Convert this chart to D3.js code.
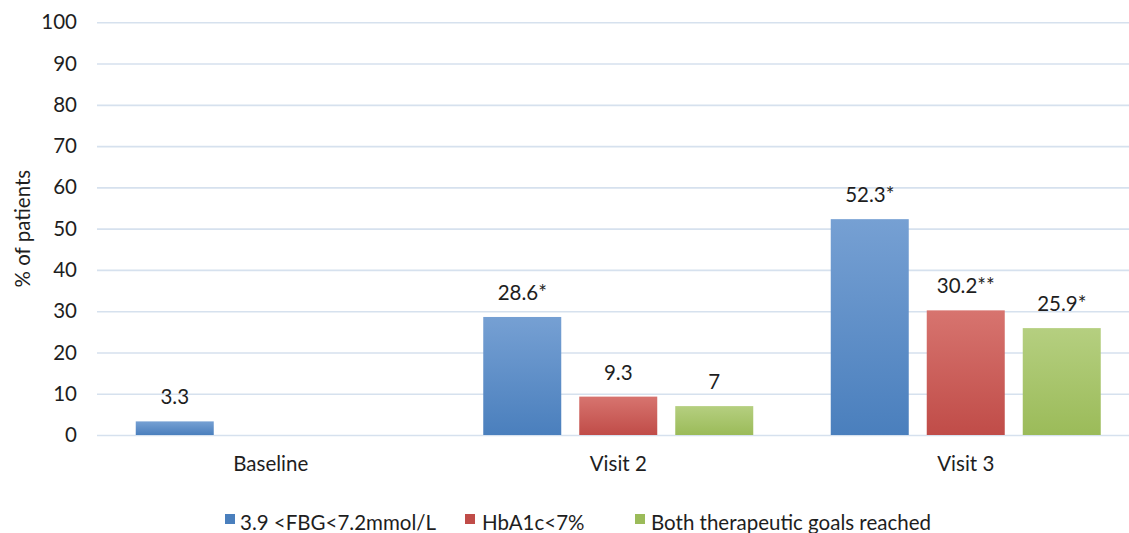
<!DOCTYPE html>
<html>
<head>
<meta charset="utf-8">
<script src="https://cdn.jsdelivr.net/npm/d3@7"></script>
<style>
  html, body { margin: 0; padding: 0; background: #fff; }
  svg { display: block; }
  text { font-family: Lato, "Open Sans", sans-serif; fill: #1e1e1e; }
</style>
</head>
<body>
<svg id="chart" width="1129" height="533"></svg>
<script>
const categories = ["Baseline", "Visit 2", "Visit 3"];
const seriesNames = ["3.9 <FBG<7.2mmol/L", "HbA1c<7%", "Both therapeutic goals reached"];
const fbgValues = [3.3, 28.6, 52.3];
const hba1cValues = [null, 9.3, 30.2];
const bothValues = [null, 7, 25.9];
const fbgLabels = ["3.3", "28.6*", "52.3*"];
const hba1cLabels = ["", "9.3", "30.2**"];
const bothLabels = ["", "7", "25.9*"];
const yTicks = [0, 10, 20, 30, 40, 50, 60, 70, 80, 90, 100];

const colors = [
  { top: "#76a0d3", bottom: "#4a7fbd" },
  { top: "#d7746f", bottom: "#c04c48" },
  { top: "#b5cf80", bottom: "#9bbb59" }
];

const FS = 20.5;
const svg = d3.select("#chart");
const W = 1129;
const plotTop = 22.3, plotBottom = 435;

const y = d3.scaleLinear().domain([0, 100]).range([plotBottom, plotTop]);
const x0 = d3.scaleBand().domain(categories).range([97, 1139.5]).paddingInner(0).paddingOuter(0);
const groupWidth = 270;
const x1 = d3.scaleBand().domain([0, 1, 2]).range([0, groupWidth]).paddingInner(18 / 96).paddingOuter(0);

// gradients
const defs = svg.append("defs");
colors.forEach((c, i) => {
  const g = defs.append("linearGradient").attr("id", "grad" + i)
    .attr("x1", 0).attr("y1", 0).attr("x2", 0).attr("y2", 1);
  g.append("stop").attr("offset", "0%").attr("stop-color", c.top);
  g.append("stop").attr("offset", "100%").attr("stop-color", c.bottom);
});

// gridlines via axis
const yAxis = d3.axisLeft(y).tickValues(yTicks).tickSize(-(W - 97)).tickPadding(20);
const gy = svg.append("g").attr("transform", "translate(97,0)").call(yAxis);
gy.select(".domain").remove();
gy.selectAll(".tick line").attr("stroke", "#d6e1ee").attr("stroke-width", 1.6);
gy.selectAll(".tick text").attr("font-size", FS).attr("fill", "#1e1e1e")
  .style("font-family", "Lato, 'Open Sans', sans-serif");

// y axis title
svg.append("text")
  .attr("transform", `translate(30,${(plotTop + plotBottom) / 2}) rotate(-90)`)
  .attr("text-anchor", "middle")
  .attr("font-size", FS)
  .text("% of patients");

// x axis labels
const xAxis = d3.axisBottom(x0).tickSize(0).tickPadding(21);
const gx = svg.append("g").attr("transform", `translate(0,${plotBottom})`).call(xAxis);
gx.select(".domain").remove();
gx.selectAll(".tick text").attr("font-size", FS).attr("fill", "#1e1e1e")
  .style("font-family", "Lato, 'Open Sans', sans-serif");

// bars
const allValues = [fbgValues, hba1cValues, bothValues];
const allLabels = [fbgLabels, hba1cLabels, bothLabels];
const data = [];
categories.forEach((cat, ci) => {
  allValues.forEach((vals, si) => {
    if (vals[ci] != null) data.push({ cat, ci, si, v: vals[ci], label: allLabels[si][ci] });
  });
});

const groupStart = cat => x0(cat) + (x0.bandwidth() - groupWidth) / 2;

svg.append("g").selectAll("rect").data(data).join("rect")
  .attr("x", d => groupStart(d.cat) + x1(d.si))
  .attr("y", d => y(d.v))
  .attr("width", x1.bandwidth())
  .attr("height", d => y(0) - y(d.v))
  .attr("fill", d => `url(#grad${d.si})`);

svg.append("g").selectAll("text").data(data).join("text")
  .attr("x", d => groupStart(d.cat) + x1(d.si) + x1.bandwidth() / 2)
  .attr("y", d => y(d.v) - 17)
  .attr("text-anchor", "middle")
  .attr("font-size", FS)
  .text(d => d.label);

// legend
const legendItems = [
  { name: seriesNames[0], sx: 225, tx: 240 },
  { name: seriesNames[1], sx: 465, tx: 482 },
  { name: seriesNames[2], sx: 635, tx: 651 }
];
const lg = svg.append("g");
legendItems.forEach((it, i) => {
  lg.append("rect").attr("x", it.sx).attr("y", 514).attr("width", 10).attr("height", 10)
    .attr("fill", colors[i].bottom);
  lg.append("text").attr("x", it.tx).attr("y", 530).attr("font-size", FS).text(it.name);
});
</script>
</body>
</html>
